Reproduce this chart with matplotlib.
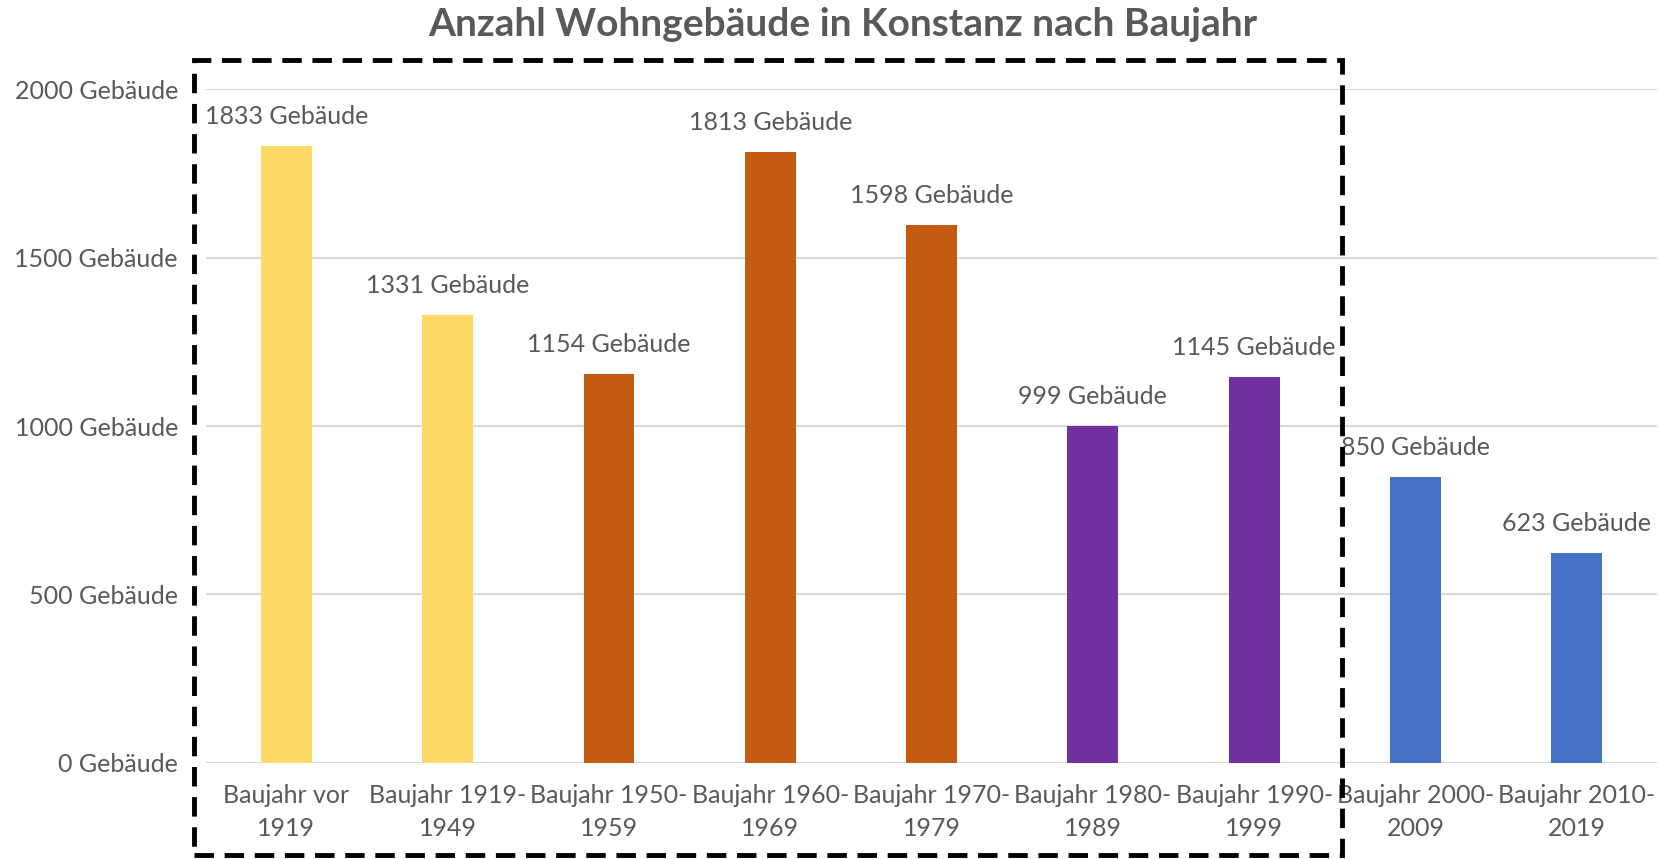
import matplotlib
matplotlib.use('Agg')
import matplotlib.pyplot as plt
from matplotlib.patches import Rectangle

categories = ['Baujahr vor\n1919', 'Baujahr 1919-\n1949', 'Baujahr 1950-\n1959',
              'Baujahr 1960-\n1969', 'Baujahr 1970-\n1979', 'Baujahr 1980-\n1989',
              'Baujahr 1990-\n1999', 'Baujahr 2000-\n2009', 'Baujahr 2010-\n2019']
values = [1833, 1331, 1154, 1813, 1598, 999, 1145, 850, 623]
colors = ['#FFD966', '#FFD966', '#C55A11', '#C55A11', '#C55A11',
          '#7030A0', '#7030A0', '#4472C4', '#4472C4']
y_ticks = [0, 500, 1000, 1500, 2000]

plt.rcParams['font.family'] = ['Lato', 'DejaVu Sans']
text_color = '#595959'

fig = plt.figure(figsize=(16.59, 8.59), dpi=100)
ax = fig.add_axes([0.124, 0.112, 0.875, 0.784])

x = range(len(values))
ax.bar(x, values, width=0.315, color=colors, zorder=3)

for i, v in enumerate(values):
    ax.annotate(f'{v} Gebäude', (i, v), xytext=(0, 13), textcoords='offset points',
                ha='center', va='bottom', fontsize=18, color=text_color)

ax.set_xlim(-0.5, len(values) - 0.5)
ax.set_ylim(0, 2000)
ax.set_yticks(y_ticks)
ax.set_yticklabels([f'{t} Gebäude' for t in y_ticks])
ax.set_xticks(list(x))
ax.set_xticklabels(categories, linespacing=1.55)
ax.tick_params(axis='both', length=0, labelsize=18, labelcolor=text_color)
ax.tick_params(axis='y', pad=20)
ax.tick_params(axis='x', pad=15)
ax.grid(axis='y', color='#D9D9D9', linewidth=1.5, zorder=0)
for s in ax.spines.values():
    s.set_visible(False)

fig.suptitle('Anzahl Wohngebäude in Konstanz nach Baujahr', x=0.508, y=0.992,
             va='top', fontsize=28, fontweight='bold', color=text_color)

# dashed frame around the first seven categories
frame = Rectangle((0.117, 0.005), 0.692, 0.925, transform=fig.transFigure,
                  fill=False, edgecolor='black', linewidth=3.5,
                  linestyle=(0, (4, 2.2)), clip_on=False, zorder=10)
fig.patches.append(frame)

fig.savefig('out.png', dpi=100)
